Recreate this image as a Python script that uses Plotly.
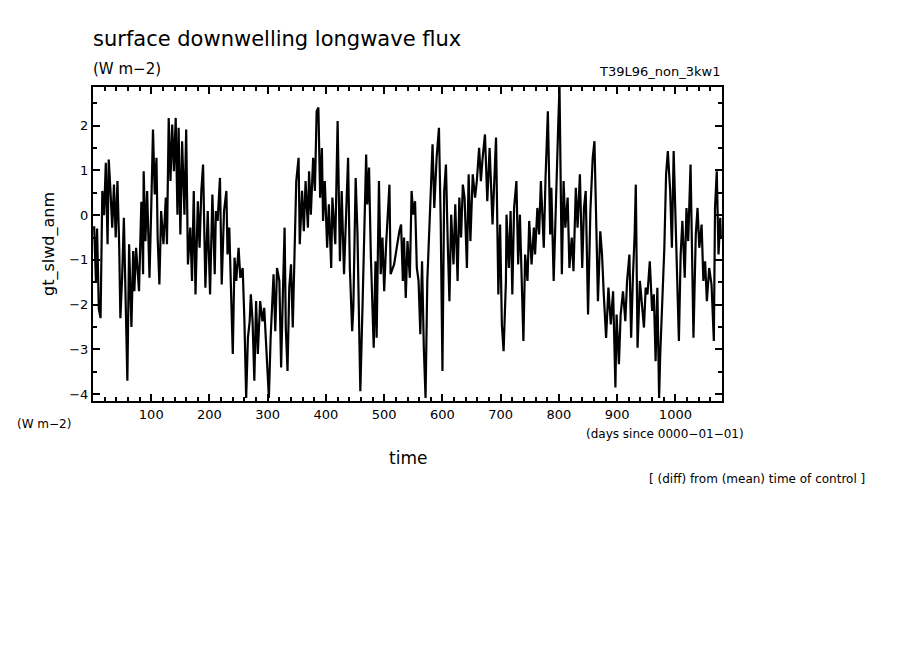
import plotly.graph_objects as go

days = [2,5,7,10,13,16,19,22,25,27,30,33,36,39,42,45,47,50,53,56,59,62,66,69,71,74,79,83,86,87,90,93,97,100,
103,106,109,111,114,117,121,125,127,130,133,136,139,142,145,147,150,153,157,160,163,167,170,173,176,180,183,186,189,
193,197,201,205,209,211,214,218,221,225,229,231,234,237,240,243,246,250,253,257,260,263,266,269,271,274,277,280,283,
287,291,294,298,302,305,307,310,313,316,320,323,326,329,331,334,337,340,343,346,349,353,355,359,362,365,369,371,374,
378,381,384,387,390,393,395,398,402,405,409,411,416,420,424,427,431,434,438,441,445,447,451,454,457,459,463,466,469,
471,474,477,482,485,487,491,494,497,500,503,509,511,517,526,529,532,534,537,540,544,547,550,553,556,559,562,565,568,
571,574,577,580,583,586,590,594,597,600,603,606,609,612,615,619,622,626,629,632,635,638,642,645,648,652,656,659,663,
666,669,673,677,681,686,689,692,696,699,702,705,709,710,714,717,720,723,727,730,733,737,739,742,746,749,753,757,759,
763,766,769,774,777,781,785,787,791,795,799,801,805,808,811,815,818,822,825,829,832,836,840,843,846,850,854,858,861,
864,867,871,874,877,881,885,889,893,897,899,903,906,910,914,917,921,924,927,930,932,935,939,942,946,949,952,956,960,
963,966,969,972,974,978,981,984,987,991,994,997,1000,1003,1006,1009,1012,1016,1019,1022,1026,1029,1031,1035,1038,
1041,1045,1048,1051,1054,1058,1062,1066,1068,1071,1074,1077,1078]
vals = [-0.25,-1.47,-0.3,-2.1,-2.3,0.54,0.0,1.17,-0.65,1.24,0.54,-0.28,0.68,-0.5,0.76,-0.7,-2.3,-1.4,-0.06,-2.07,-3.7,
-0.65,-2.5,-0.8,-1.7,-0.73,-1.7,0.3,-1.32,0.98,-0.58,0.54,-1.4,0.16,
1.91,0.46,1.28,-0.5,-1.55,0.09,-0.65,0.39,-0.65,2.17,0.76,2.02,0.98,2.17,0.01,1.95,-0.43,1.65,0.01,1.91,-1.1,-0.28,
-1.47,0.54,-1.77,0.31,-0.73,0.54,1.13,
-1.62,0.09,-1.77,0.46,-1.32,0.09,-0.13,0.83,-1.55,0.09,0.54,-0.88,-0.28,-2.07,-3.1,-0.95,-1.47,-0.73,-1.4,-1.18,-2.37,
-4.08,-2.74,-2.37,-1.77,-2.37,-3.7,-1.92,-3.1,
-1.92,-2.37,-2.07,-3.26,-4.08,-2.74,-2.14,-1.32,-2.59,-1.18,-1.47,-3.4,-1.77,-0.28,-2.51,-3.48,-1.62,-1.1,-2.51,-0.73,
0.76,1.28,-0.65,0.54,-0.36,0.76,-0.28,0.98,0.01,
1.28,0.54,2.32,2.4,0.39,1.5,-0.13,0.76,-0.73,0.24,-1.18,0.39,-0.65,2.1,-1.03,0.54,-1.32,-0.28,1.28,-1.18,-2.59,-2.07,
0.83,-0.36,-3.18,-3.93,-1.92,-0.13,1.35,
0.24,1.06,-0.88,-2.96,-1.03,-2.74,0.76,-1.32,-0.5,-1.7,-0.73,0.68,-1.32,-1.1,-0.36,-0.21,-1.47,-0.5,-1.85,-0.58,-1.4,
0.54,0.01,0.31,-1.18,-1.47,-2.66,-1.03,-2.96,
-4.08,-1.47,-0.21,0.54,1.58,0.16,1.28,1.95,-0.13,-3.48,0.54,1.13,-0.58,-1.92,0.01,-1.1,0.24,-1.47,0.39,-0.5,0.68,0.39,
-1.18,0.91,-0.58,0.91,0.39,0.76,1.5,
0.76,1.28,1.8,0.31,1.5,-0.21,0.91,1.73,-1.77,-0.21,-2.44,-3.04,-1.47,0.01,-1.18,0.09,-1.77,0.16,0.76,-1.1,0.01,-1.62,
-2.81,-0.88,-1.47,-0.13,-1.1,-0.28,-0.88,
0.16,-0.43,0.76,-0.73,0.83,2.32,-0.43,0.61,-1.47,0.54,2.1,2.86,-1.32,0.76,-0.28,0.39,-1.18,-0.5,-1.25,0.61,-0.28,0.91,
-1.18,0.16,0.54,-2.22,0.09,1.28,1.65,
-0.13,-1.92,-0.36,-0.88,-1.77,-2.74,-1.62,-2.44,-1.7,-3.85,-2.22,-3.33,-2.22,-1.7,-2.37,-1.47,-0.88,-2.74,-1.4,-0.43,
0.68,-2.96,-1.47,-1.99,-2.51,-1.62,-1.77,-1.03,-2.14,
-1.77,-3.26,-1.62,-4.08,-3.1,-1.77,-0.73,0.91,1.43,0.54,-0.73,1.43,-0.21,-1.47,-2.81,-0.88,-0.13,-1.4,0.16,-0.58,1.13,
-1.18,-2.74,-0.43,0.16,
-0.73,-0.21,-1.47,-1.03,-1.92,-1.18,-1.55,-2.81,0.16,0.98,-0.88,-0.06,-0.5]

FONT = "DejaVu Sans"
OFF = 7  # page offset compensation
W, H = 904, 654
L, R, T, B = 92 - OFF, 721 - OFF, 86 - OFF, 400 - OFF

fig = go.Figure(go.Scatter(x=days, y=vals, mode="lines",
                           line=dict(color="black", width=2.2), hoverinfo="skip"))

axis_common = dict(showgrid=False, zeroline=False, showline=True, linecolor="black",
                   linewidth=2, mirror="ticks", ticks="inside", ticklen=7, tickwidth=1.5,
                   tickcolor="black", tickfont=dict(family=FONT, size=13, color="black"))
fig.update_xaxes(range=[0, 1080], tickvals=[100,200,300,400,500,600,700,800,900,1000],
                 minor=dict(ticks="inside", ticklen=4, dtick=20, tick0=0, tickcolor="black"),
                 **axis_common)
fig.update_yaxes(range=[-4.15, 2.86], tickvals=[-4,-3,-2,-1,0,1,2],
                 ticktext=["\u22124","\u22123","\u22122","\u22121","0","1","2"],
                 minor=dict(ticks="inside", ticklen=4, dtick=0.5, tick0=0, tickcolor="black"),
                 **axis_common)

def txt(x, y, s, size, xanchor="left", angle=0):
    fig.add_annotation(x=x, y=y, xref="paper", yref="paper", text=s, showarrow=False,
                       xanchor=xanchor, yanchor="middle", textangle=angle,
                       font=dict(family=FONT, size=size, color="black"))

def px(xp): return (xp - 92) / 629
def py(yp): return (400 - yp) / 314

txt(px(90), py(38), "surface downwelling longwave flux", 21)
txt(px(90), py(68), "(W m\u22122)", 15)
txt(px(721), py(71), "T39L96_non_3kw1", 13, xanchor="right")
txt(px(48), py(243), "gt_slwd_anm", 16, xanchor="center", angle=-90)
txt(px(14), py(423), "(W m\u22122)", 12)
txt(px(745), py(433), "(days since 0000\u221201\u221201)", 12, xanchor="right")
txt(px(407), py(457), "time", 17, xanchor="center")
txt(px(866), py(478), "[ (diff) from (mean) time of control ]", 12, xanchor="right")

fig.update_layout(width=W, height=H,
                  margin=dict(l=L, r=W - R, t=T, b=H - B, autoexpand=False),
                  plot_bgcolor="white", paper_bgcolor="white", showlegend=False)
fig.write_html("out.html")
